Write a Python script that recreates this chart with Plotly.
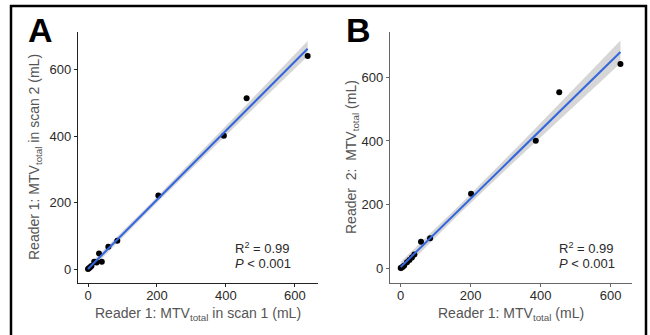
import numpy as np
import plotly.graph_objects as go

# ---- data ----
xa = [0, 3, 6, 10, 18, 25, 32, 40, 59, 85, 204, 394, 460, 637]
ya = [0, 2, 5, 9, 22, 20, 47, 22, 67, 85, 221, 401, 514, 641]
xb = [0, 3, 6, 10, 18, 25, 32, 39, 58, 84, 201, 386, 453, 628]
yb = [0, 2, 4, 8, 18, 25, 33, 43, 83, 94, 234, 401, 553, 642]
tick_vals = [0, 200, 400, 600]
tick_text = ["0", "200", "400", "600"]
stats_text = ["R<sup>2</sup> = 0.99", "<i>P</i> &lt; 0.001"]

W, H = 650, 335
FONT = "Liberation Sans, Arial, Helvetica, sans-serif"


def px_x(p):
    return p / W


def px_y(p):
    return (H - p) / H


def fit_band(x, y):
    x = np.asarray(x, float)
    y = np.asarray(y, float)
    n = len(x)
    b1, b0 = np.polyfit(x, y, 1)
    resid = y - (b0 + b1 * x)
    s = np.sqrt(np.sum(resid ** 2) / (n - 2))
    xm = x.mean()
    sxx = np.sum((x - xm) ** 2)
    t = 2.18  # ~ t(0.975, n-2)
    xs = np.linspace(x.min(), x.max(), 80)
    yh = b0 + b1 * xs
    se = s * np.sqrt(1.0 / n + (xs - xm) ** 2 / sxx)
    return xs, yh, yh - t * se, yh + t * se


fig = go.Figure()

for x, y, xr, yr in [(xa, ya, "x", "y"), (xb, yb, "x2", "y2")]:
    xs, yh, lo, hi = fit_band(x, y)
    fig.add_trace(go.Scatter(x=xs, y=lo, mode="lines", line=dict(width=0),
                             hoverinfo="skip", showlegend=False, xaxis=xr, yaxis=yr))
    fig.add_trace(go.Scatter(x=xs, y=hi, mode="lines", line=dict(width=0),
                             fill="tonexty", fillcolor="rgba(153,153,153,0.4)",
                             hoverinfo="skip", showlegend=False, xaxis=xr, yaxis=yr))
    fig.add_trace(go.Scatter(x=x, y=y, mode="markers",
                             marker=dict(color="black", size=6),
                             showlegend=False, xaxis=xr, yaxis=yr))
    fig.add_trace(go.Scatter(x=xs, y=yh, mode="lines",
                             line=dict(color="#3366DD", width=2),
                             showlegend=False, xaxis=xr, yaxis=yr))


def axis(domain, rng, color, anchor, standoff=0):
    return dict(domain=domain, range=rng, anchor=anchor,
                tickvals=tick_vals, ticktext=tick_text,
                showgrid=False, zeroline=False,
                showline=True, linecolor=color, linewidth=1.3,
                ticks="outside", ticklen=3, tickcolor=color, tickwidth=1,
                ticklabelstandoff=standoff,
                tickfont=dict(family=FONT, size=13, color="#2a2a2a"))


fig.update_layout(
    width=W, height=H,
    margin=dict(l=0, r=0, t=0, b=0),
    paper_bgcolor="white", plot_bgcolor="white",
    xaxis=axis([px_x(78), px_x(318)], [-29, 667], "#222", "y", -3),
    yaxis=axis([px_y(283), px_y(32)], [-42, 713], "#222", "x"),
    xaxis2=axis([px_x(390), px_x(632)], [-30.6, 661], "#666", "y2", -3),
    yaxis2=axis([px_y(283), px_y(32)], [-47, 743], "#666", "x2"),
)

title_font = dict(family=FONT, size=14, color="#555")
ann = []
# panel letters
ann.append(dict(text="<b>A</b>", x=px_x(40), y=px_y(30), font=dict(family=FONT, size=34, color="black")))
ann.append(dict(text="<b>B</b>", x=px_x(358), y=px_y(30), font=dict(family=FONT, size=34, color="black")))
# axis titles
ann.append(dict(text="Reader 1: MTV<sub>total</sub> in scan 1 (mL)", x=px_x(198), y=px_y(314), font=title_font))
ann.append(dict(text="Reader 1: MTV<sub>total</sub> in scan 2 (mL)", x=px_x(35), y=px_y(157), textangle=-90, font=title_font))
ann.append(dict(text="Reader 1: MTV<sub>total</sub> (mL)", x=px_x(511), y=px_y(314), font=title_font))
ann.append(dict(text="Reader  2:  MTV<sub>total</sub> (mL)", x=px_x(352), y=px_y(157), textangle=-90, font=title_font))
# stats
for x0 in (233, 557):
    ann.append(dict(text=stats_text[0], x=px_x(x0), y=px_y(248), xanchor="left",
                    font=dict(family=FONT, size=13, color="#2a2a2a")))
    ann.append(dict(text=stats_text[1], x=px_x(x0), y=px_y(263), xanchor="left",
                    font=dict(family=FONT, size=13, color="#2a2a2a")))

for a in ann:
    a.setdefault("xanchor", "center")
    a.update(xref="paper", yref="paper", yanchor="middle", showarrow=False)
fig.update_layout(annotations=ann)

fig.add_shape(type="rect", xref="paper", yref="paper",
              x0=px_x(11), x1=px_x(646), y0=-0.05, y1=px_y(6),
              line=dict(color="black", width=2.5))

fig.write_html("out.html", config={"displayModeBar": False},
               post_script="document.body.style.margin='0';document.body.style.overflow='hidden';")
